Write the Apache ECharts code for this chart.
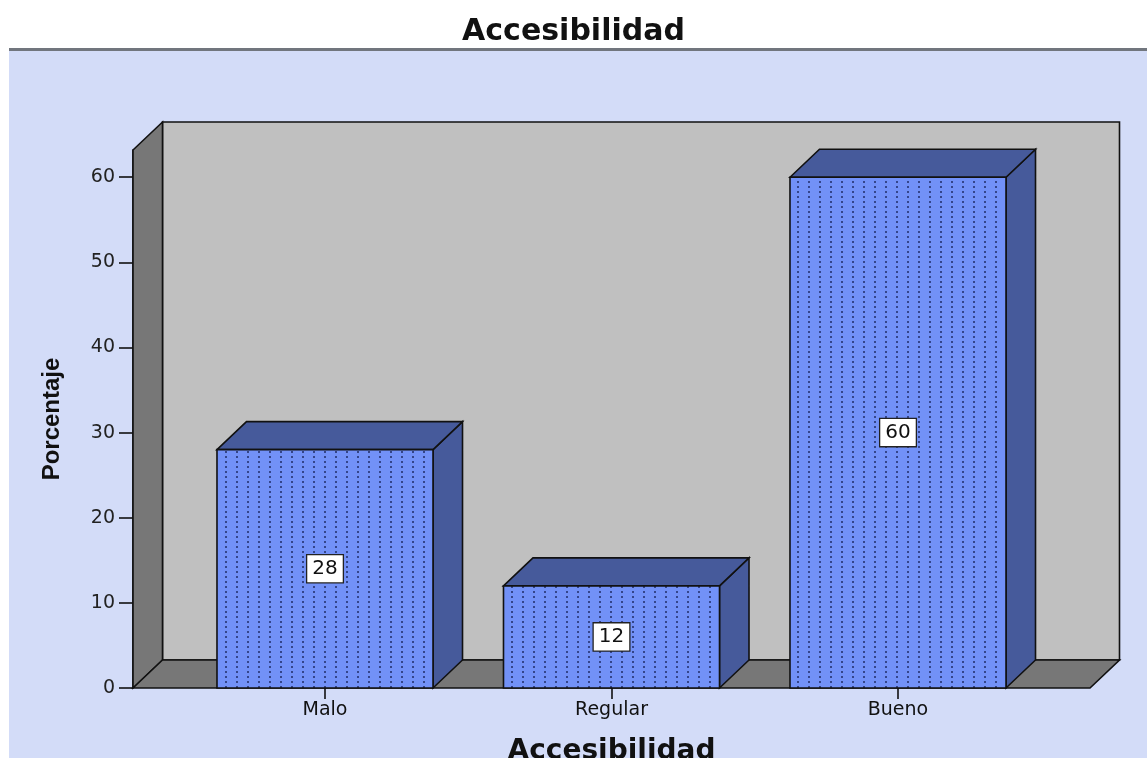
<!DOCTYPE html>
<html>
<head>
<meta charset="utf-8">
<script src="https://cdn.jsdelivr.net/npm/echarts@6/dist/echarts.min.js"></script>
<style>
  html, body { margin: 0; padding: 0; background: #ffffff; }
  #chart { width: 1147px; height: 758px; }
</style>
</head>
<body>
<div id="chart"></div>
<script>
// Survey results: share of answers per rating of "Accesibilidad"
const categories = ['Malo', 'Regular', 'Bueno'];
const percentages = [28, 12, 60];
const yTicks = [0, 10, 20, 30, 40, 50, 60];
const Y_MAX = 63.2;

// 3D box look: depth offset of the back plane and floor overhang past the bars
const DEPTH_X = 29.5;
const DEPTH_Y = -28;
const FLOOR_PAD = 48.75;
const BAR_RATIO = 0.754;

// Dotted fill used on the front face of every bar
function makeDotPattern() {
  const c = document.createElement('canvas');
  c.width = 11;
  c.height = 5;
  const ctx = c.getContext('2d');
  ctx.fillStyle = '#34458a';
  ctx.fillRect(5, 1, 2, 2);
  return c;
}
const dotPattern = makeDotPattern();

const chart = echarts.init(document.getElementById('chart'), null, { renderer: 'canvas' });

const stroke = '#111111';

function renderBox(params, api) {
  const cs = params.coordSys;
  const x0 = cs.x - FLOOR_PAD;
  const x1 = cs.x + cs.width + FLOOR_PAD;
  const yT = api.coord([0, Y_MAX])[1];
  const yB = api.coord([0, 0])[1];
  const dx = DEPTH_X, dy = DEPTH_Y;
  return {
    type: 'group',
    children: [
      {
        type: 'polygon',
        shape: { points: [[x0 + dx, yT + dy], [x1 + dx, yT + dy], [x1 + dx, yB + dy], [x0 + dx, yB + dy]] },
        style: { fill: '#c0c0c0', stroke: stroke, lineWidth: 1.6, lineJoin: 'miter' }
      },
      {
        type: 'polygon',
        shape: { points: [[x0, yT], [x0 + dx, yT + dy], [x0 + dx, yB + dy], [x0, yB]] },
        style: { fill: '#777777', stroke: stroke, lineWidth: 1.6, lineJoin: 'miter' }
      },
      {
        type: 'polygon',
        shape: { points: [[x0, yB], [x0 + dx, yB + dy], [x1 + dx, yB + dy], [x1, yB]] },
        style: { fill: '#777777', stroke: stroke, lineWidth: 1.6, lineJoin: 'miter' }
      }
    ]
  };
}

function renderBar(params, api) {
  const cat = api.value(0);
  const v = api.value(1);
  const top = api.coord([cat, v]);
  const base = api.coord([cat, 0]);
  const mid = api.coord([cat, v / 2]);
  const w = api.size([1, 0])[0] * BAR_RATIO;
  const xl = top[0] - w / 2;
  const xr = top[0] + w / 2;
  const yt = top[1];
  const yb = base[1];
  const dx = DEPTH_X, dy = DEPTH_Y;
  const side = '#465a9b';
  return {
    type: 'group',
    children: [
      {
        type: 'polygon',
        shape: { points: [[xr, yt], [xr + dx, yt + dy], [xr + dx, yb + dy], [xr, yb]] },
        style: { fill: side, stroke: stroke, lineWidth: 1.6, lineJoin: 'miter' }
      },
      {
        type: 'polygon',
        shape: { points: [[xl, yt], [xl + dx, yt + dy], [xr + dx, yt + dy], [xr, yt]] },
        style: { fill: side, stroke: stroke, lineWidth: 1.6, lineJoin: 'miter' }
      },
      {
        type: 'rect',
        shape: { x: xl, y: yt, width: w, height: yb - yt },
        style: { fill: '#7291f7' }
      },
      {
        type: 'rect',
        shape: { x: xl, y: yt, width: w, height: yb - yt },
        style: { fill: { image: dotPattern, repeat: 'repeat' } }
      },
      {
        type: 'rect',
        shape: { x: xl, y: yt, width: w, height: yb - yt },
        style: { fill: 'none', stroke: stroke, lineWidth: 1.6 }
      },
      {
        type: 'text',
        style: {
          text: String(v),
          x: mid[0],
          y: mid[1],
          align: 'center',
          verticalAlign: 'middle',
          textAlign: 'center',
          textVerticalAlign: 'middle',
          fontFamily: 'DejaVu Sans',
          fontSize: 20,
          fill: '#111111',
          backgroundColor: '#ffffff',
          borderColor: '#222222',
          borderWidth: 1.3,
          padding: [4, 5, 3, 5]
        }
      }
    ]
  };
}

const option = {
  backgroundColor: '#ffffff',
  animation: false,
  title: {
    text: 'Accesibilidad',
    left: 'center',
    top: 12,
    textStyle: { fontFamily: 'DejaVu Sans', fontWeight: 'bold', fontSize: 30, color: '#111111' }
  },
  graphic: [
    { type: 'rect', z: -10, silent: true, shape: { x: 9, y: 51, width: 1138, height: 707 }, style: { fill: '#d3dcf8' } },
    { type: 'rect', z: -10, silent: true, shape: { x: 9, y: 48, width: 1138, height: 3 }, style: { fill: '#71767e' } }
  ],
  grid: { left: 181.75, top: 150, width: 859.5, height: 538, containLabel: false, outerBoundsMode: 'none' },
  xAxis: {
    type: 'category',
    data: categories,
    axisLine: { show: false },
    axisTick: { show: true, alignWithLabel: true, length: 11, lineStyle: { color: stroke, width: 1.6 } },
    axisLabel: { fontFamily: 'DejaVu Sans', fontSize: 19, color: '#111111', margin: 13 },
    splitLine: { show: false },
    name: 'Accesibilidad',
    nameLocation: 'middle',
    nameGap: 50,
    nameTextStyle: { fontFamily: 'DejaVu Sans', fontWeight: 'bold', fontSize: 28, color: '#111111' }
  },
  yAxis: {
    type: 'value',
    min: 0,
    max: Y_MAX,
    interval: 10,
    offset: FLOOR_PAD,
    axisLine: { show: true, lineStyle: { color: stroke, width: 1.6 } },
    axisTick: { show: true, length: 14, customValues: yTicks, lineStyle: { color: stroke, width: 1.6 } },
    axisLabel: { customValues: yTicks, margin: 18, fontFamily: 'DejaVu Sans', fontSize: 19, color: '#222222' },
    splitLine: { show: false },
    name: 'Porcentaje',
    nameLocation: 'middle',
    nameGap: 69,
    nameTextStyle: { fontFamily: 'Liberation Sans', fontWeight: 'bold', fontSize: 24, color: '#111111' }
  },
  series: [
    {
      type: 'custom',
      name: 'caja',
      silent: true,
      clip: false,
      z: 1,
      data: [[0, 0]],
      renderItem: renderBox
    },
    {
      type: 'custom',
      name: 'Porcentaje',
      clip: false,
      z: 3,
      data: categories.map((c, i) => [i, percentages[i]]),
      encode: { x: 0, y: 1 },
      renderItem: renderBar
    }
  ]
};

chart.setOption(option);
</script>
</body>
</html>
